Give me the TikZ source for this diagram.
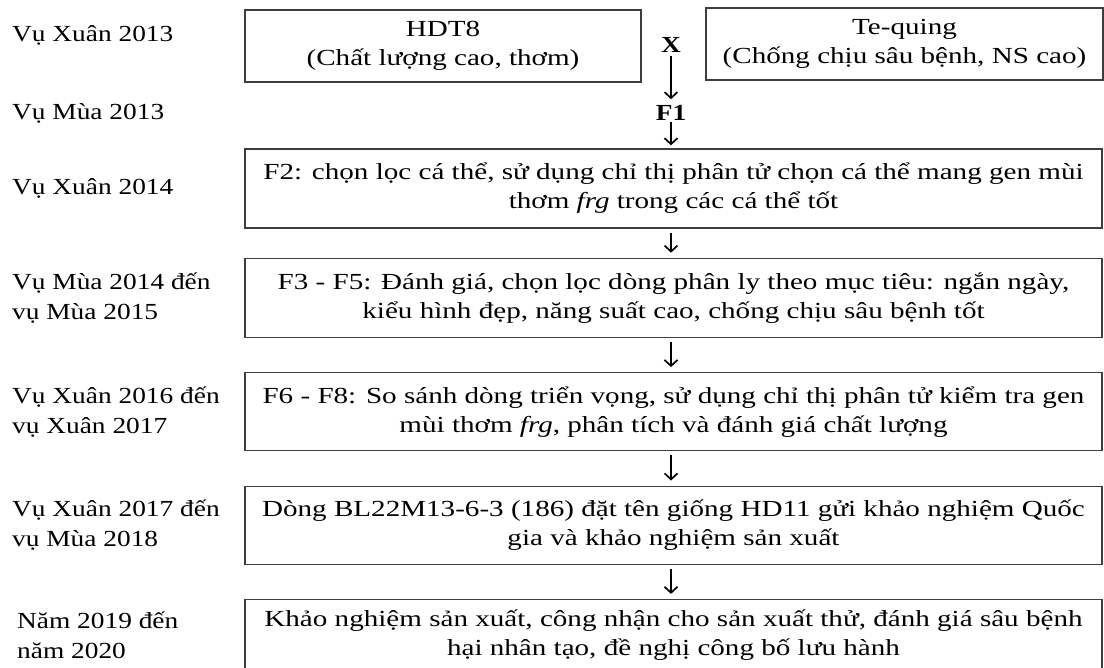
\documentclass[tikz,border=0pt]{standalone}
\usepackage{fontspec}
\setmainfont[FakeStretch=1.19]{Liberation Serif}
\newfontfamily\boxfont[FakeStretch=1.265]{Liberation Serif}
\usetikzlibrary{arrows.meta,positioning,calc}
\definecolor{linegray}{RGB}{62,62,62}
\tikzset{
  flow/.style={-{Straight Barb[length=6pt,width=13pt,line width=1.7pt]}, line width=1.7pt, draw=black},
  stepflow/.style={flow, shorten <=4pt, shorten >=5pt},
  parent/.style={shape=rectangle, draw=linegray, line width=1.4pt, align=center, minimum width=396pt, minimum height=72pt, inner sep=2pt, font=\boxfont\fontsize{23}{29}\selectfont},
  stagebox/.style={parent, minimum width=857pt, minimum height=78pt},
  season/.style={anchor=west, align=left, inner sep=0pt, font=\fontsize{23}{30}\selectfont},
  cross/.style={inner sep=1pt, font=\fontsize{23}{29}\selectfont\bfseries}
}

\begin{document}
\begin{tikzpicture}[x=1pt, y=-1pt, node distance=34pt]
  \useasboundingbox (0,0) rectangle (1104,668);

  % parents and cross
  \node[parent] (hdt) at (443,46) {HDT8\\(Chất lượng cao, thơm)};
  \node[parent, minimum width=397pt] (teq) at (904.5,44) {Te-quing\\(Chống chịu sâu bệnh, NS cao)};
  \node[cross] (cross) at (671,45) {X};
  \node[cross] (fone) at (671,113) {F1};

  % selection stages
  \node[stagebox, minimum height=79pt] (ftwo) at (673.5,188.5) {F2: chọn lọc cá thể, sử dụng chỉ thị phân tử chọn cá thể mang gen mùi\\thơm \textit{frg} trong các cá thể tốt};
  \node[stagebox, minimum height=79pt, below=29pt of ftwo] (fthree) {F3 - F5: Đánh giá, chọn lọc dòng phân ly theo mục tiêu: ngắn ngày,\\kiểu hình đẹp, năng suất cao, chống chịu sâu bệnh tốt};
  \node[stagebox, below=of fthree] (fsix) {F6 - F8: So sánh dòng triển vọng, sử dụng chỉ thị phân tử kiểm tra gen\\mùi thơm \textit{frg}, phân tích và đánh giá chất lượng};
  \node[stagebox, below=of fsix] (line) {Dòng BL22M13-6-3 (186) đặt tên giống HD11 gửi khảo nghiệm Quốc\\gia và khảo nghiệm sản xuất};
  \node[stagebox, minimum height=72pt, below=of line] (trial) {Khảo nghiệm sản xuất, công nhận cho sản xuất thử, đánh giá sâu bệnh\\hại nhân tạo, đề nghị công bố lưu hành};

  % seasons
  \coordinate (lefttab) at (12,0);
  \node[season] (sxuan13) at (12,35) {Vụ Xuân 2013};
  \node[season] (smua13) at (12,113) {Vụ Mùa 2013};
  \node[season] (sxuan14) at (ftwo.center -| lefttab) {Vụ Xuân 2014};
  \node[season] (smua14) at (fthree.center -| lefttab) {Vụ Mùa 2014 đến\\vụ Mùa 2015};
  \node[season] (sxuan16) at (fsix.center -| lefttab) {Vụ Xuân 2016 đến\\vụ Xuân 2017};
  \node[season] (sxuan17) at (line.center -| lefttab) {Vụ Xuân 2017 đến\\vụ Mùa 2018};
  \node[season] (snam19) at ($(trial.center -| lefttab)+(5,0)$) {Năm 2019 đến\\năm 2020};

  \draw[flow, shorten <=2pt, shorten >=5pt] (cross) -- (fone);
  \draw[flow, shorten >=3pt] (fone) -- (ftwo.north -| fone);
  \draw[stepflow] (ftwo.south -| fone) -- (fthree.north -| fone);
  \draw[stepflow] (fthree.south -| fone) -- (fsix.north -| fone);
  \draw[stepflow] (fsix.south -| fone) -- (line.north -| fone);
  \draw[stepflow] (line.south -| fone) -- (trial.north -| fone);
\end{tikzpicture}
\end{document}
